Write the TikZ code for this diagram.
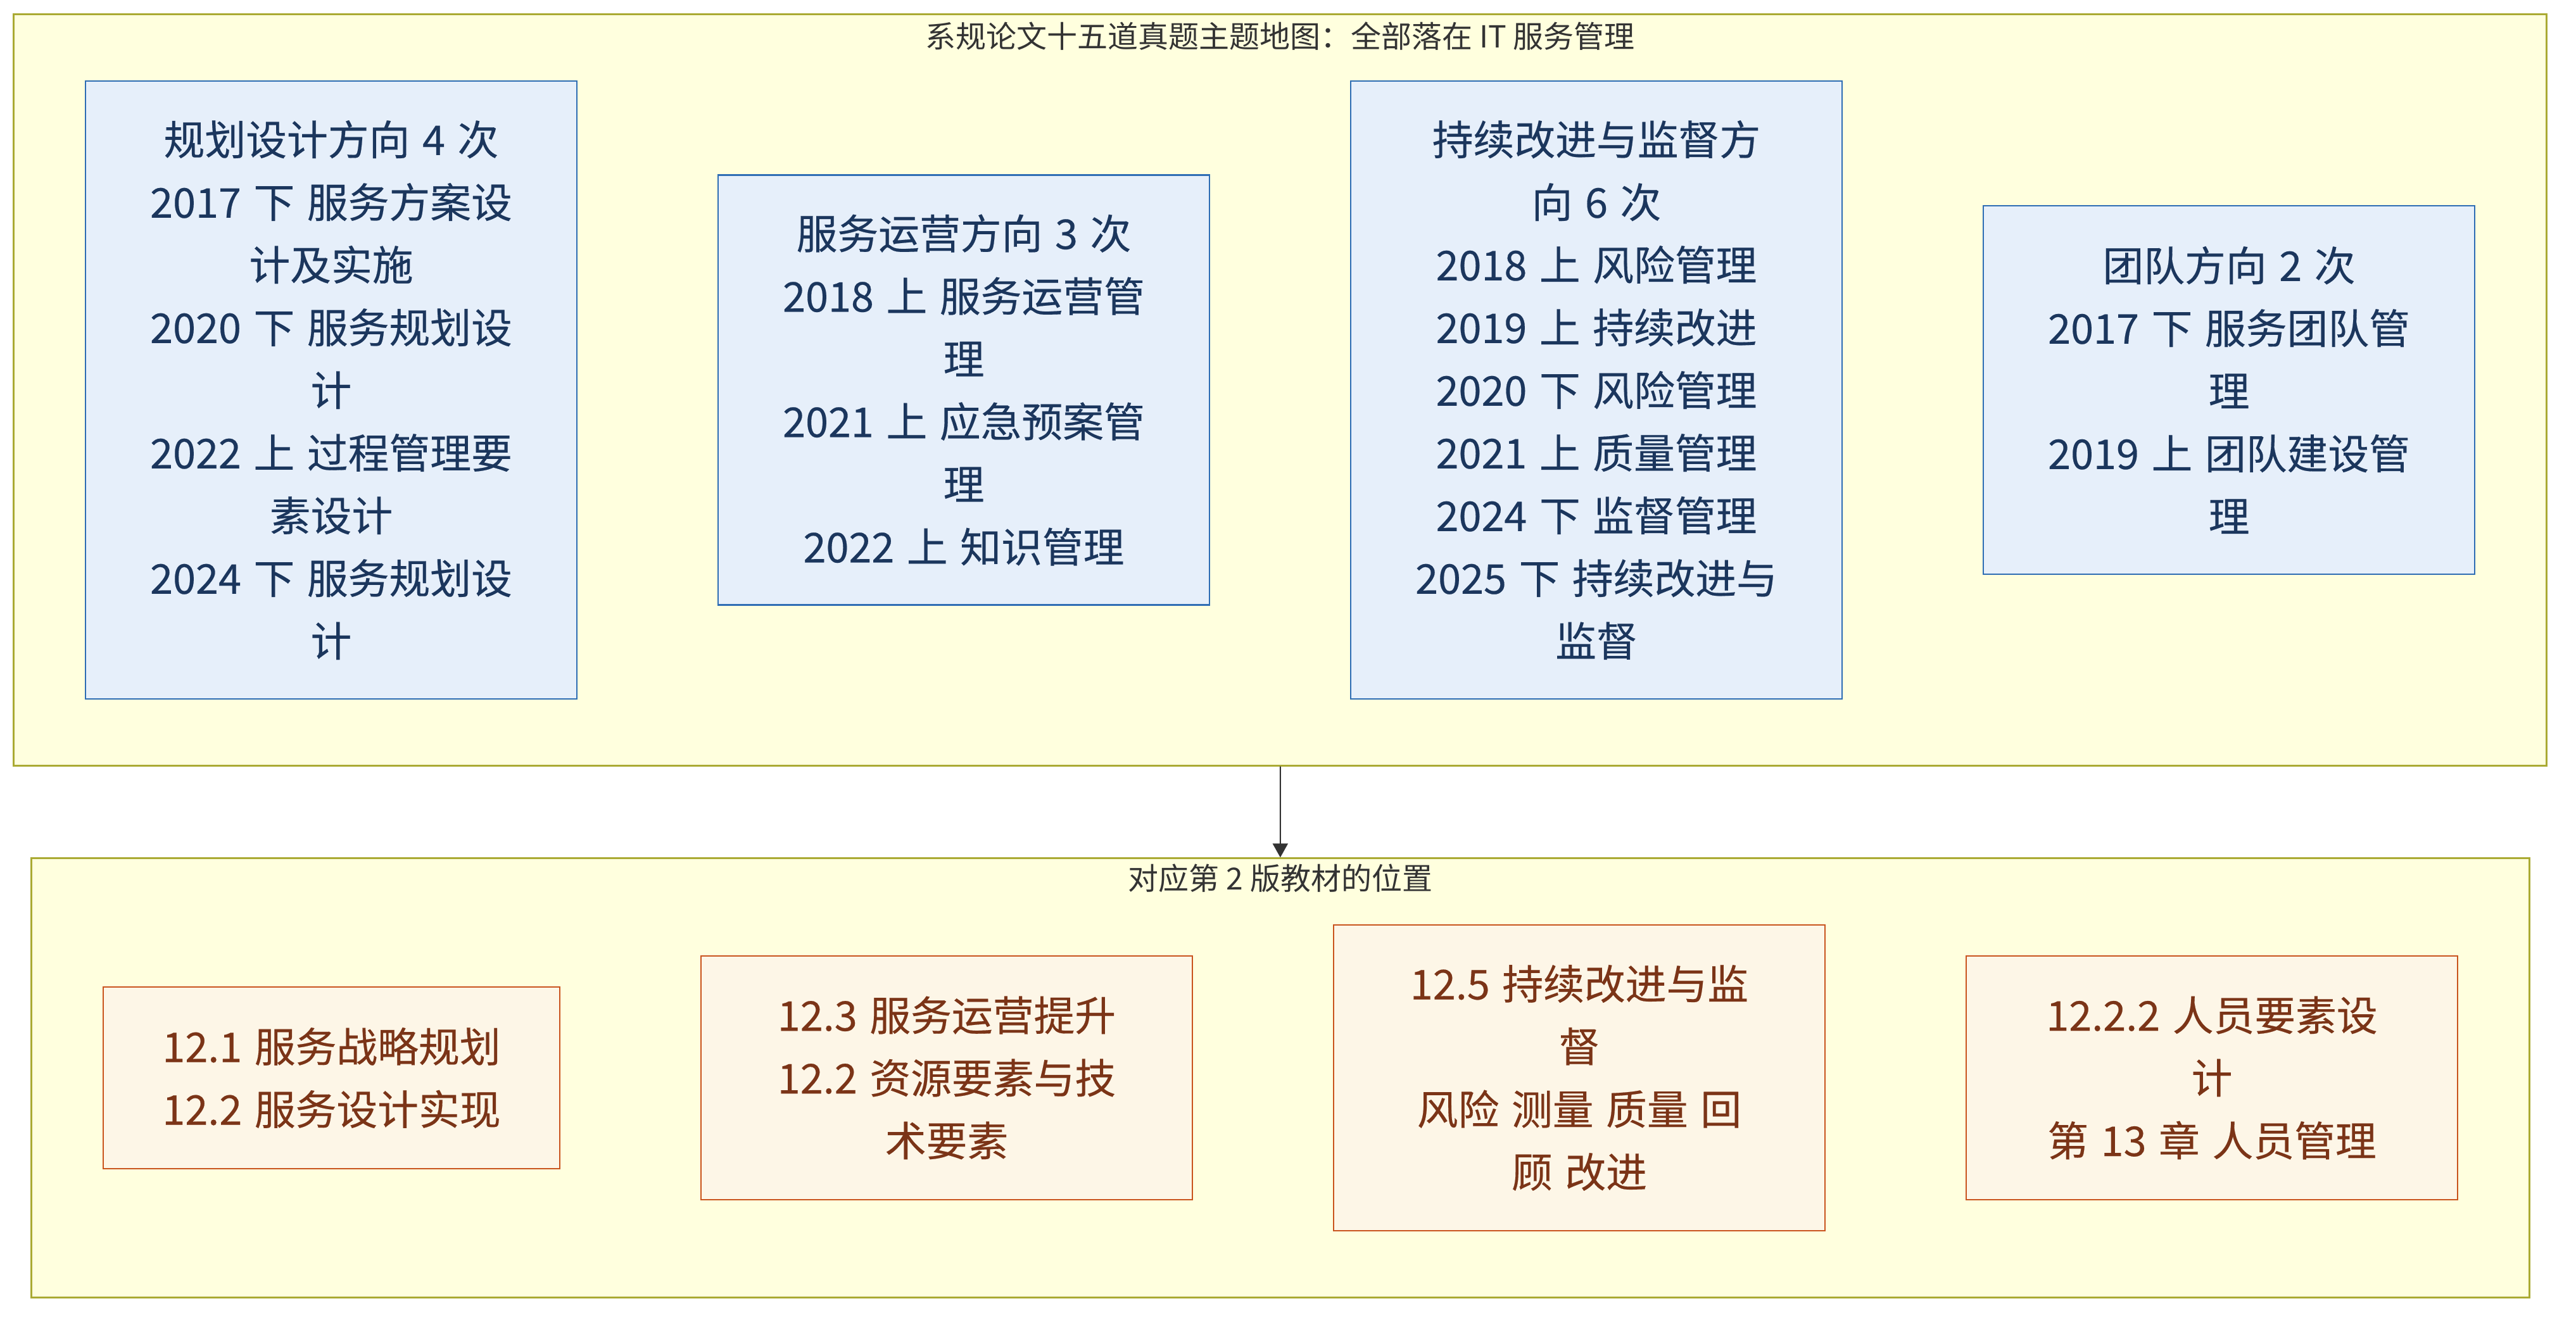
\documentclass[tikz,border=0pt]{standalone}
\usepackage{fontspec}
\setmainfont{Noto Sans CJK SC}
\newfontfamily\boxfont[WordSpace=1.35, FakeBold=0.3]{Noto Sans CJK SC}
\usepackage{tikz}
\usetikzlibrary {arrows.meta,
                 backgrounds,
                 fit,
                 positioning}
\definecolor{clusterfill}{HTML}{FFFFDE}
\definecolor{clusterline}{HTML}{AAAA33}
\definecolor{clustertext}{HTML}{333333}
\definecolor{topicfill}{HTML}{E6EFFA}
\definecolor{topicline}{HTML}{2E6DB4}
\definecolor{topictext}{HTML}{1B365D}
\definecolor{chapfill}{HTML}{FDF6E7}
\definecolor{chapline}{HTML}{C9541E}
\definecolor{chaptext}{HTML}{7B3417}
\definecolor{arrowline}{HTML}{333333}
\tikzset{
        base/.style={draw, align=center, line width=0.65pt, inner sep=0pt,
                     font=\boxfont\fontsize{16.2pt}{24.75pt}\selectfont},
        topic/.style={base, rectangle, fill=topicfill, draw=topicline,
                      text=topictext, minimum width=194pt},
        chapter/.style={base, rectangle, fill=chapfill, draw=chapline,
                        text=chaptext, minimum width=194pt},
        cluster/.style={draw=clusterline, fill=clusterfill, line width=0.65pt,
                        inner xsep=28pt, inner ysep=26pt},
        clustertitle/.style={text=clustertext, font=\fontsize{12pt}{14pt}\selectfont},
        myarrow/.style={-{Triangle[width=6pt,length=5.5pt]}, line width=0.5pt,
                        draw=arrowline},
 }
\begin{document}
\begin{tikzpicture}
    \useasboundingbox (0,0) rectangle (1017pt,-521.25pt);

    \node[topic, minimum height=244pt] (planA) at (130.75pt,-154pt)
        {规划设计方向 4 次\\2017 下 服务方案设\\计及实施\\2020 下 服务规划设\\计\\2022 上 过程管理要\\素设计\\2024 下 服务规划设\\计};
    \node[topic, minimum height=169.75pt, right=55.1pt of planA] (opsB)
        {服务运营方向 3 次\\2018 上 服务运营管\\理\\2021 上 应急预案管\\理\\2022 上 知识管理};
    \node[topic, minimum height=244pt, right=55.1pt of opsB] (improveC)
        {持续改进与监督方\\向 6 次\\2018 上 风险管理\\2019 上 持续改进\\2020 下 风险管理\\2021 上 质量管理\\2024 下 监督管理\\2025 下 持续改进与\\监督};
    \node[topic, minimum height=145.5pt, right=55.1pt of improveC] (teamD)
        {团队方向 2 次\\2017 下 服务团队管\\理\\2019 上 团队建设管\\理};

    \node[chapter, minimum width=180.25pt, minimum height=71.75pt] (chapA) at (130.875pt,-425.625pt)
        {12.1 服务战略规划\\12.2 服务设计实现};
    \node[chapter, minimum height=96.25pt, right=55.1pt of chapA] (chapB)
        {12.3 服务运营提升\\12.2 资源要素与技\\术要素};
    \node[chapter, minimum height=120.75pt, right=55.1pt of chapB] (chapC)
        {12.5 持续改进与监\\督\\风险 测量 质量 回\\顾 改进};
    \node[chapter, minimum height=96.25pt, right=55.1pt of chapC] (chapD)
        {12.2.2 人员要素设\\计\\第 13 章 人员管理};

    \begin{scope}[on background layer]
        \node[cluster, fit=(planA)(opsB)(improveC)(teamD)] (themes) {};
        \node[cluster, fit=(chapA)(chapB)(chapC)(chapD)] (book) {};
    \end{scope}
    \node[clustertitle] (themestitle) at ([yshift=-9pt]themes.north)
        {系规论文十五道真题主题地图：全部落在 IT 服务管理};
    \node[clustertitle] (booktitle) at ([yshift=-8.25pt]book.north)
        {对应第 2 版教材的位置};

    \draw[myarrow] (themes) -- (book);
\end{tikzpicture}
\end{document}
